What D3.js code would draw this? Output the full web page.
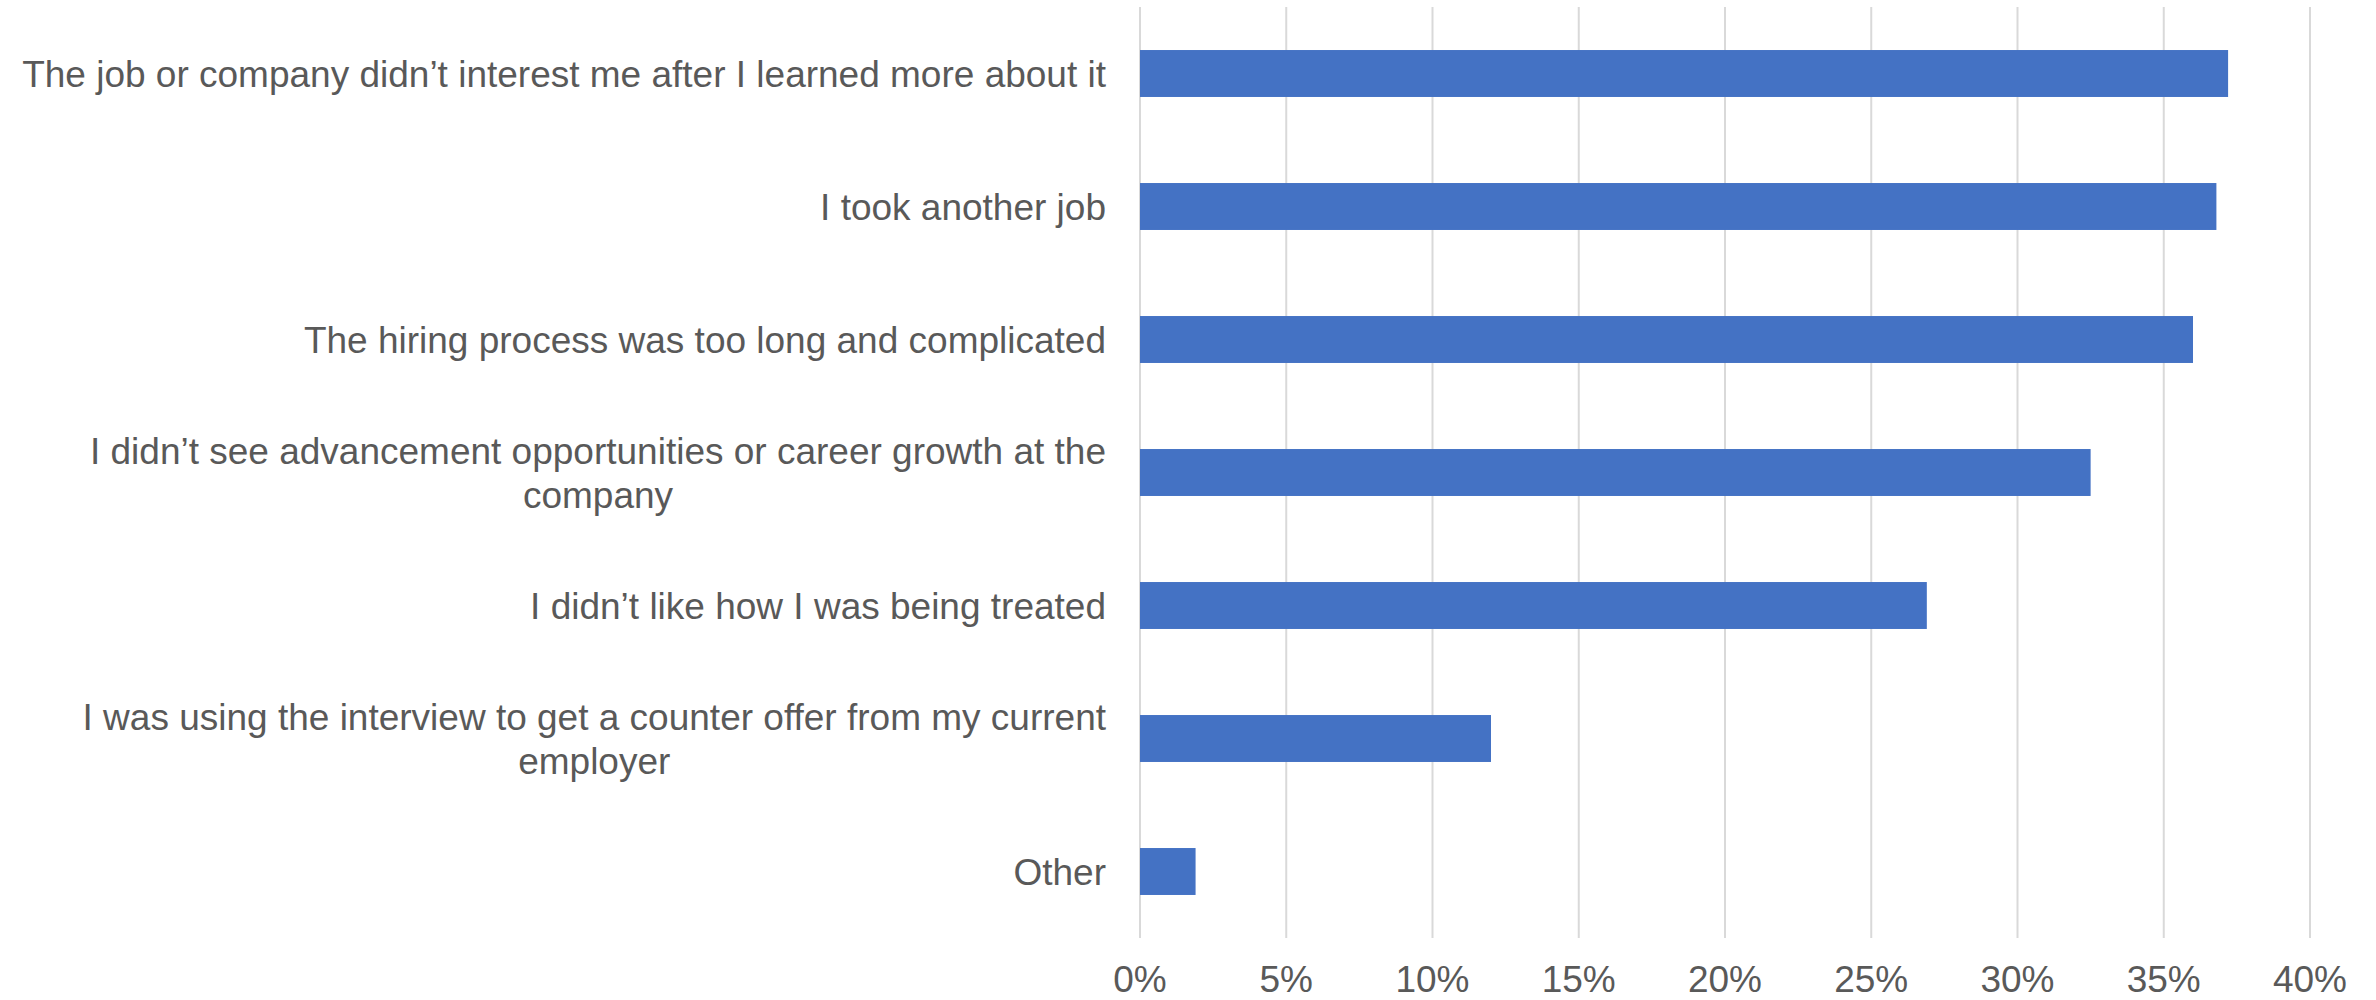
<!DOCTYPE html>
<html>
<head>
<meta charset="utf-8">
<script src="https://cdn.jsdelivr.net/npm/d3@7"></script>
<style>
  html, body { margin: 0; padding: 0; background: #ffffff; }
  svg { display: block; }
  text { font-family: "Liberation Sans", Arial, sans-serif; fill: #595959; }
</style>
</head>
<body>
<svg id="chart" width="2376" height="1000"></svg>
<script>
// Data
const categories = [
  ["The job or company didn’t interest me after I learned more about it"],
  ["I took another job"],
  ["The hiring process was too long and complicated"],
  ["I didn’t see advancement opportunities or career growth at the", "company"],
  ["I didn’t like how I was being treated"],
  ["I was using the interview to get a counter offer from my current", "employer"],
  ["Other"]
];
const values = [37.2, 36.8, 36.0, 32.5, 26.9, 12.0, 1.9];
const tickValues = [0, 5, 10, 15, 20, 25, 30, 35, 40];
const tickLabels = ["0%", "5%", "10%", "15%", "20%", "25%", "30%", "35%", "40%"];

const svg = d3.select("#chart");
const plot = { left: 1140, right: 2310, top: 7, bottom: 938 };
const fontSize = 37;

const x = d3.scaleLinear().domain([0, 40]).range([plot.left, plot.right]);
const y = d3.scaleBand()
  .domain(d3.range(categories.length))
  .range([plot.top, plot.bottom])
  .paddingInner(0.647)
  .paddingOuter(0.3235);

// Gridlines
svg.append("g")
  .selectAll("line")
  .data(tickValues)
  .join("line")
  .attr("x1", d => x(d)).attr("x2", d => x(d))
  .attr("y1", plot.top).attr("y2", plot.bottom)
  .attr("stroke", "#d9d9d9")
  .attr("stroke-width", 2);

// Bars
svg.append("g")
  .selectAll("rect")
  .data(values)
  .join("rect")
  .attr("x", x(0))
  .attr("y", (d, i) => y(i))
  .attr("width", d => x(d) - x(0))
  .attr("height", y.bandwidth())
  .attr("fill", "#4472C4");

// X tick labels
svg.append("g")
  .selectAll("text")
  .data(tickValues)
  .join("text")
  .attr("x", d => x(d))
  .attr("y", 992)
  .attr("text-anchor", "middle")
  .attr("font-size", fontSize)
  .text((d, i) => tickLabels[i]);

// Category labels
const labelRight = 1106;
const lineGap = 44;
const labelG = svg.append("g");
categories.forEach((lines, i) => {
  const cy = y(i) + y.bandwidth() / 2;
  const n = lines.length;
  const t = labelG.append("text")
    .attr("font-size", fontSize)
    .attr("text-anchor", n > 1 ? "middle" : "end");
  let blockW = 0;
  if (n > 1) {
    const tmp = labelG.append("text").attr("font-size", fontSize);
    lines.forEach(l => {
      tmp.text(l);
      blockW = Math.max(blockW, tmp.node().getComputedTextLength());
    });
    tmp.remove();
  }
  const ax = n > 1 ? labelRight - blockW / 2 : labelRight;
  lines.forEach((l, j) => {
    t.append("tspan")
      .attr("x", ax)
      .attr("y", cy + 13 + (j - (n - 1) / 2) * lineGap)
      .text(l);
  });
});
</script>
</body>
</html>
